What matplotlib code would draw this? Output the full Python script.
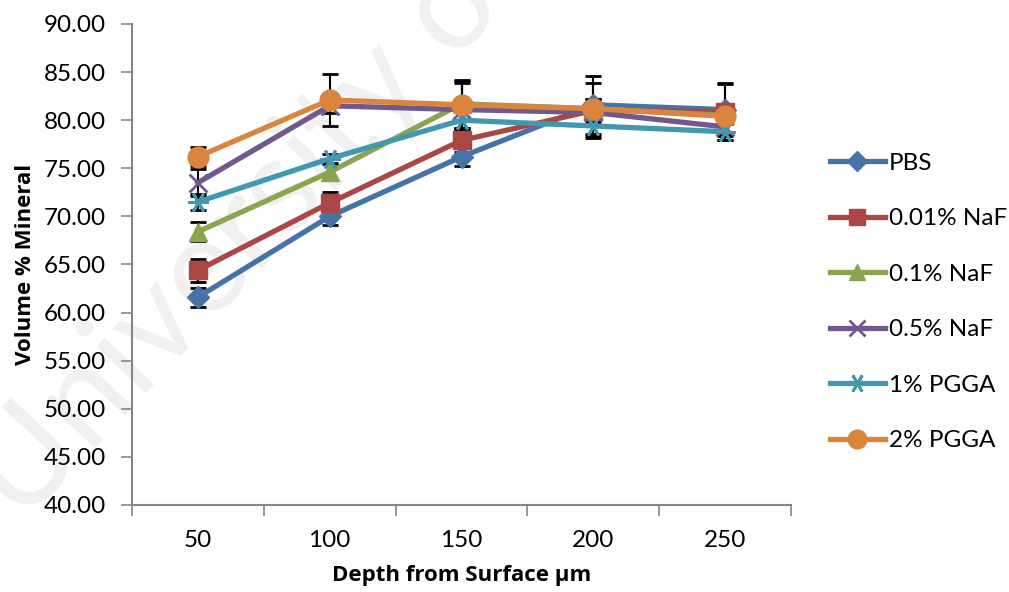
import matplotlib.pyplot as plt
import numpy as np

plt.rcParams['font.family'] = ['Lato', 'DejaVu Sans']

depths = ['50', '100', '150', '200', '250']
groups = ['PBS', '0.01% NaF', '0.1% NaF', '0.5% NaF', '1% PGGA', '2% PGGA']

pbs = [61.6, 70.0, 76.2, 81.6, 81.1]
naf001 = [64.4, 71.4, 77.9, 81.0, 80.9]
naf01 = [68.4, 74.6, 81.7, 81.2, 80.5]
naf05 = [73.5, 81.5, 81.1, 80.8, 79.3]
pgga1 = [71.5, 76.0, 80.0, 79.4, 78.8]
pgga2 = [76.2, 82.1, 81.6, 81.2, 80.4]

err_pbs = [1.0, 0.9, 1.0, 3.0, 2.7]
err_naf001 = [1.2, 1.1, 1.2, 2.9, 3.0]
err_naf01 = [1.0, 0.8, 2.5, 1.0, 0.8]
err_naf05 = [1.4, 0.8, 2.8, 1.0, 0.8]
err_pgga1 = [0.8, 0.5, 0.8, 1.0, 0.9]
err_pgga2 = [1.0, 2.7, 2.5, 1.0, 0.8]

series = [pbs, naf001, naf01, naf05, pgga1, pgga2]
errors = [err_pbs, err_naf001, err_naf01, err_naf05, err_pgga1, err_pgga2]
colors = ['#4572A7', '#AA4643', '#89A54E', '#71588F', '#4198AF', '#DB843D']
markers = ['D', 's', '^', 'x', (6, 2, 90), 'o']
msizes = [11, 13, 13, 13, 15, 15]

fig = plt.figure(figsize=(10.09, 5.92), dpi=100)
ax = fig.add_axes([0.1308, 0.147, 0.6532, 0.8125])

# faint watermark, kept underneath the lines and labels
ax.text(0.022, 0.111, 'University of', transform=fig.transFigure, rotation=47,
        rotation_mode='anchor', fontsize=96, color='#f0f0f0', zorder=0,
        ha='left', va='baseline', clip_on=False)

x = np.arange(len(depths))
for vals, err, c, m, ms, name in zip(series, errors, colors, markers, msizes, groups):
    ax.errorbar(x, vals, yerr=err, fmt='none', ecolor='black', elinewidth=1.5,
                capsize=6, capthick=2, zorder=3)
    thin = m == 'x' or isinstance(m, tuple)
    ax.plot(x, vals, color=c, lw=3.8, marker=m, markersize=ms,
            markeredgecolor=c, markeredgewidth=2 if thin else 1,
            label=name, zorder=4)

ax.set_xlim(-0.5, 4.5)
ax.set_ylim(40, 90)
ax.set_yticks(np.arange(40, 91, 5))
ax.set_yticklabels([f'{v:.2f}' for v in np.arange(40, 91, 5)])
ax.set_xticks(x)
ax.set_xticklabels(depths)
ax.set_xticks(np.arange(-0.5, 4.6, 1), minor=True)
ax.tick_params(axis='x', which='major', length=0, pad=18)
ax.tick_params(axis='x', which='minor', length=8, color='#868686', width=1.2)
ax.tick_params(axis='y', length=8, color='#868686', width=1.2, pad=11)
ax.tick_params(labelsize=17.5)

for s in ('top', 'right'):
    ax.spines[s].set_visible(False)
for s in ('left', 'bottom'):
    ax.spines[s].set_color('#868686')
    ax.spines[s].set_linewidth(1.5)

label_font = dict(family=['Open Sans', 'DejaVu Sans'], fontsize=16, fontweight='bold')
ax.set_xlabel('Depth from Surface µm', labelpad=10, **label_font)
ax.set_ylabel('Volume % Mineral', labelpad=5, **label_font)

ax.legend(loc='center left', bbox_to_anchor=(830 / 1009, 0.49),
          bbox_transform=fig.transFigure, frameon=False, borderpad=0,
          borderaxespad=0, fontsize=17.5, handlelength=2.26, handletextpad=0.16,
          labelspacing=1.42, markerscale=0.9)

fig.savefig('out.png', dpi=100)
